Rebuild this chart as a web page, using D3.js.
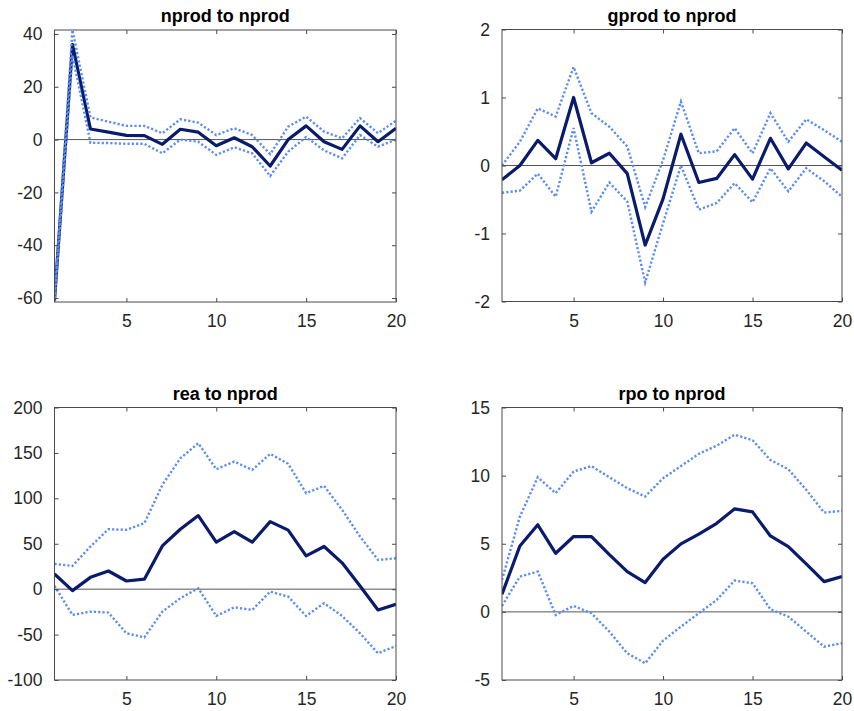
<!DOCTYPE html>
<html>
<head>
<meta charset="utf-8">
<script src="https://cdn.jsdelivr.net/npm/d3@7"></script>
<style>
  html, body { margin: 0; padding: 0; background: #fff; }
  svg { display: block; }
</style>
</head>
<body>
<svg id="chart" width="854" height="711"></svg>
<script>
// Impulse responses over 20 horizons: median response with lower/upper bands.
const horizons = d3.range(1, 21);

const nprodMid = [-61, 36, 4.0, 2.8, 1.6, 1.5, -1.8, 3.9, 2.8, -2.3, 0.7, -2.7, -10, 0, 5.2, -0.8, -3.7, 5.2, -0.8, 4.3];
const nprodHi  = [-60.5, 41.5, 8.4, 6.8, 5.2, 5.2, 2.4, 7.7, 6.4, 1.7, 4.3, 1.7, -5.5, 4.9, 8.7, 3.0, 0.5, 8.1, 2.4, 7.2];
const nprodLo  = [-61.5, 32, -1.2, -1.3, -1.6, -1.6, -5.2, 0, -0.8, -5.8, -2.9, -5.2, -13.8, -4.6, 1.0, -4.1, -7.1, 1.7, -2.7, 0];

const gprodMid = [-0.21, 0.0, 0.37, 0.10, 1.0, 0.04, 0.18, -0.12, -1.17, -0.49, 0.46, -0.25, -0.19, 0.16, -0.2, 0.4, -0.05, 0.33, 0.13, -0.07];
const gprodHi  = [0.0, 0.35, 0.84, 0.72, 1.45, 0.77, 0.57, 0.28, -0.61, 0.08, 0.94, 0.18, 0.21, 0.55, 0.18, 0.77, 0.35, 0.68, 0.52, 0.35];
const gprodLo  = [-0.40, -0.37, -0.12, -0.46, 0.55, -0.68, -0.25, -0.53, -1.72, -0.85, 0.0, -0.65, -0.55, -0.26, -0.54, -0.04, -0.38, -0.04, -0.23, -0.46];

const reaMid = [16.8, -1.6, 13, 20, 9, 11, 47.6, 66, 81, 51.7, 63.4, 51.7, 74.4, 65, 36.6, 47, 29, 3.5, -22.9, -16.6];
const reaHi  = [27.8, 25.6, 47, 66, 65.3, 72.6, 114.8, 144, 160.7, 132, 140.5, 131.3, 149, 138, 105.7, 113.7, 87.3, 58, 32.2, 34];
const reaLo  = [3.6, -28.4, -24.7, -25.8, -48.6, -53, -24.7, -10, 1, -29.5, -20, -22.9, -2.7, -8.2, -29.5, -15.5, -29.5, -48.6, -70.6, -62.5];

const rpoMid = [1.3, 4.84, 6.39, 4.3, 5.53, 5.53, 4.2, 2.96, 2.15, 3.86, 4.99, 5.7, 6.5, 7.56, 7.34, 5.57, 4.79, 3.52, 2.22, 2.59];
const rpoHi  = [2.34, 7.0, 9.88, 8.71, 10.3, 10.7, 9.88, 9.08, 8.47, 9.81, 10.7, 11.6, 12.2, 13.0, 12.6, 11.15, 10.47, 8.96, 7.29, 7.41];
const rpoLo  = [0.44, 2.59, 2.96, -0.23, 0.44, -0.1, -1.45, -3.04, -3.77, -2.11, -1.08, -0.1, 0.88, 2.3, 2.1, 0.19, -0.35, -1.45, -2.55, -2.3];

const titles = ["nprod to nprod", "gprod to nprod", "rea to nprod", "rpo to nprod"];
const xTicks = [5, 10, 15, 20];
const yDomains = [[-61.5, 41.5], [-2, 2], [-100, 200], [-5, 15]];
const yTicks = [[-60, -40, -20, 0, 20, 40], [-2, -1, 0, 1, 2], [-100, -50, 0, 50, 100, 150, 200], [-5, 0, 5, 10, 15]];

const series = [
  { mid: nprodMid, hi: nprodHi, lo: nprodLo },
  { mid: gprodMid, hi: gprodHi, lo: gprodLo },
  { mid: reaMid,   hi: reaHi,   lo: reaLo },
  { mid: rpoMid,   hi: rpoHi,   lo: rpoLo }
];

// Panel frames (plot-area boxes)
const frames = [
  { left: 54.5, right: 396, top: 30,    bottom: 302 },
  { left: 502,  right: 842, top: 29.5,  bottom: 301.5 },
  { left: 54.5, right: 396, top: 407.5, bottom: 680 },
  { left: 502,  right: 842, top: 407.5, bottom: 680 }
];

const svg = d3.select("#chart");
const FONT = "'Liberation Sans', Arial, Helvetica, sans-serif";
const MID_COLOR = "#0b1b6b";
const BAND_COLOR = "#5b8ef0";
const AXIS_COLOR = "#4a4a4a";
const TEXT_COLOR = "#262626";
const TICK_LEN = 4;

frames.forEach((f, k) => {
  const x = d3.scaleLinear().domain([1, 20]).range([f.left, f.right]);
  const y = d3.scaleLinear().domain(yDomains[k]).range([f.bottom, f.top]);
  const g = svg.append("g");

  const clipId = "clip" + k;
  svg.append("clipPath").attr("id", clipId)
    .append("rect")
    .attr("x", f.left).attr("y", f.top - 1)
    .attr("width", f.right - f.left).attr("height", f.bottom - f.top + 2);

  // zero reference line
  g.append("line")
    .attr("x1", x(1)).attr("x2", x(20))
    .attr("y1", y(0)).attr("y2", y(0))
    .attr("stroke", "#555").attr("stroke-width", 1);

  const line = d3.line().x((d, i) => x(horizons[i])).y(d => y(d));
  const s = series[k];
  const plot = g.append("g").attr("clip-path", `url(#${clipId})`);

  plot.append("path").datum(s.mid)
    .attr("d", line)
    .attr("fill", "none")
    .attr("stroke", MID_COLOR)
    .attr("stroke-width", 3.2)
    .attr("stroke-linejoin", "round");

  [s.hi, s.lo].forEach(band => {
    plot.append("path").datum(band)
      .attr("d", line)
      .attr("fill", "none")
      .attr("stroke", BAND_COLOR)
      .attr("stroke-width", 2.4)
      .attr("stroke-dasharray", "2.2,2.1");
  });

  // axes box
  g.append("rect")
    .attr("x", f.left).attr("y", f.top)
    .attr("width", f.right - f.left).attr("height", f.bottom - f.top)
    .attr("fill", "none").attr("stroke", AXIS_COLOR).attr("stroke-width", 1);

  // x ticks (inward, bottom and top) and labels
  const xAxisBottom = d3.axisBottom(x).tickValues(xTicks).tickSizeInner(-TICK_LEN).tickSizeOuter(0).tickPadding(13);
  const xb = g.append("g").attr("transform", `translate(0,${f.bottom})`).call(xAxisBottom);
  const xAxisTop = d3.axisTop(x).tickValues(xTicks).tickSizeInner(-TICK_LEN).tickSizeOuter(0).tickFormat("");
  const xt = g.append("g").attr("transform", `translate(0,${f.top})`).call(xAxisTop);

  const yAxisLeft = d3.axisLeft(y).tickValues(yTicks[k]).tickSizeInner(-TICK_LEN).tickSizeOuter(0).tickPadding(12);
  const yl = g.append("g").attr("transform", `translate(${f.left},0)`).call(yAxisLeft);
  const yAxisRight = d3.axisRight(y).tickValues(yTicks[k]).tickSizeInner(-TICK_LEN).tickSizeOuter(0).tickFormat("");
  const yr = g.append("g").attr("transform", `translate(${f.right},0)`).call(yAxisRight);

  [xb, xt, yl, yr].forEach(a => {
    a.select(".domain").remove();
    a.selectAll(".tick line").attr("stroke", AXIS_COLOR).attr("stroke-width", 1);
    a.selectAll(".tick text")
      .attr("fill", TEXT_COLOR)
      .style("font-family", FONT)
      .style("font-size", "17.5px");
  });
  xb.selectAll(".tick text").attr("dy", "0.71em");
  yl.selectAll(".tick text").text(d => d < 0 ? "-" + Math.abs(d) : String(d));

  // panel title
  g.append("text")
    .attr("x", (f.left + f.right) / 2)
    .attr("y", f.top - 8)
    .attr("text-anchor", "middle")
    .attr("fill", "#000")
    .style("font-family", FONT)
    .style("font-size", "18px")
    .style("font-weight", "bold")
    .text(titles[k]);
});
</script>
</body>
</html>
